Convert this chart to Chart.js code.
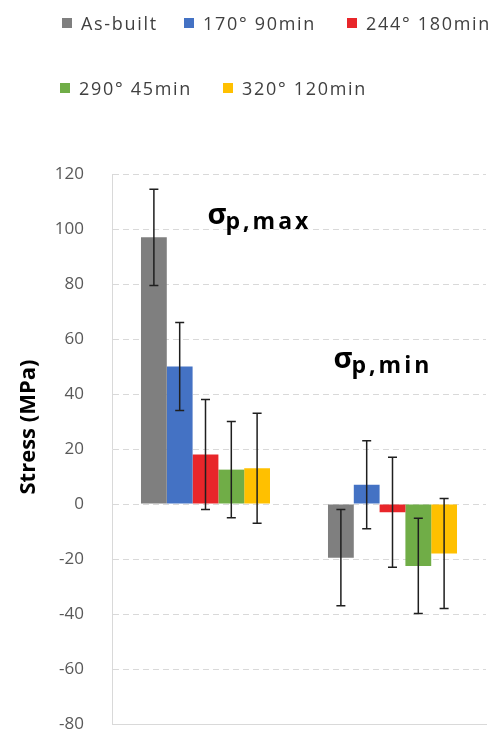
<!DOCTYPE html>
<html lang="en">
<head>
  <meta charset="UTF-8" />
  <title>Residual stress</title>
  <script src="https://cdn.jsdelivr.net/npm/chart.js"></script>
  <style>
    body { margin: 0; background: #fff; font-family: "Open Sans", sans-serif; }
    #wrap { position: relative; width: 496px; height: 731px; }
    #legend { position: absolute; left: 0; top: 0; width: 496px; height: 110px; }
    .item { position: absolute; display: flex; align-items: center; white-space: nowrap;
            font-size: 18px; color: #404040; letter-spacing: 1.7px; }
    .box { width: 10px; height: 10px; margin-right: 9px; }
  </style>
</head>
<body>
<div id="wrap">
  <canvas id="chart"></canvas>
  <div id="legend"></div>
</div>
<script>
  const categories = ["σp,max", "σp,min"];
  const seriesLabels = ["As-built", "170° 90min", "244° 180min", "290° 45min", "320° 120min"];
  const asBuilt = [97, -19.5];
  const asBuiltErr = [17.5, 17.5];
  const t170 = [50, 7];
  const t170Err = [16, 16];
  const t244 = [18, -3];
  const t244Err = [20, 20];
  const t290 = [12.5, -22.5];
  const t290Err = [17.5, 17.3];
  const t320 = [13, -18];
  const t320Err = [20, 20];
  const yTicks = [-80, -60, -40, -20, 0, 20, 40, 60, 80, 100, 120];
  const yTitle = "Stress (MPa)";

  const colors = ["#7f7f7f", "#4472c4", "#e8262a", "#70ad47", "#ffc000"];
  const values = [asBuilt, t170, t244, t290, t320];
  const errs = [asBuiltErr, t170Err, t244Err, t290Err, t320Err];

  // legend in two rows, placed like the original
  const legend = document.getElementById("legend");
  const spots = [[62, 11], [184, 11], [347, 11], [60, 76], [223, 76]];
  seriesLabels.forEach((l, i) => {
    const it = document.createElement("div");
    it.className = "item";
    it.style.left = spots[i][0] + "px";
    it.style.top = spots[i][1] + "px";
    it.innerHTML = `<span class="box" style="background:${colors[i]}"></span>${l}`;
    legend.appendChild(it);
  });

  const errorBars = {
    id: "errorBars",
    afterDatasetsDraw(chart) {
      const ctx = chart.ctx;
      const y = chart.scales.y;
      chart.data.datasets.forEach((ds, i) => {
        chart.getDatasetMeta(i).data.forEach((bar, j) => {
          const v = ds.data[j], e = ds.errors[j];
          const top = y.getPixelForValue(v + e);
          const bot = y.getPixelForValue(v - e);
          ctx.save();
          ctx.strokeStyle = "#1f1f1f";
          ctx.lineWidth = 1.5;
          ctx.beginPath();
          ctx.moveTo(bar.x, top); ctx.lineTo(bar.x, bot);
          ctx.moveTo(bar.x - 4.5, top); ctx.lineTo(bar.x + 4.5, top);
          ctx.moveTo(bar.x - 4.5, bot); ctx.lineTo(bar.x + 4.5, bot);
          ctx.stroke();
          ctx.restore();
        });
      });
    }
  };

  // sigma labels for the two groups + the axis title (sits a bit above centre in the original)
  const groupLabels = {
    id: "groupLabels",
    afterDraw(chart) {
      const ctx = chart.ctx;
      const x = chart.scales.x, y = chart.scales.y;
      const at = [
        { dx: 2, v: 102 },
        { dx: -59, v: 49.5 }
      ];
      categories.forEach((c, i) => {
        const px = x.getPixelForValue(i) + at[i].dx;
        const py = y.getPixelForValue(at[i].v);
        ctx.save();
        ctx.fillStyle = "#000";
        ctx.textBaseline = "alphabetic";
        ctx.font = "bold 29px 'Open Sans'";
        ctx.fillText(c[0], px, py);
        const w = ctx.measureText(c[0]).width;
        ctx.font = "bold 23px 'Open Sans'";
        ctx.letterSpacing = "3px";
        ctx.fillText(c.slice(1), px + w - 1, py + 5);
        ctx.restore();
      });

      ctx.save();
      ctx.translate(29, y.getPixelForValue(28));
      ctx.rotate(-Math.PI / 2);
      ctx.fillStyle = "#000";
      ctx.font = "bold 22px 'Open Sans'";
      ctx.textAlign = "center";
      ctx.textBaseline = "middle";
      ctx.fillText(yTitle, 0, 0);
      ctx.restore();
    }
  };

  new Chart(document.getElementById("chart"), {
    type: "bar",
    data: {
      labels: categories,
      datasets: seriesLabels.map((l, i) => ({
        label: l,
        data: values[i],
        errors: errs[i],
        backgroundColor: colors[i],
        barPercentage: 1,
        categoryPercentage: 0.69
      }))
    },
    options: {
      responsive: true,
      maintainAspectRatio: false,
      animation: false,
      layout: { padding: { top: 174, right: 10, bottom: 7, left: 0 } },
      plugins: { legend: { display: false }, tooltip: { enabled: false } },
      scales: {
        x: {
          ticks: { display: false },
          grid: { display: false },
          border: { color: "#d9d9d9" },
          afterFit: (s) => { s.height = 0; }
        },
        y: {
          min: -80,
          max: 120,
          afterBuildTicks: (s) => { s.ticks = yTicks.map((v) => ({ value: v })); },
          afterFit: (s) => { s.width = 112; },
          ticks: { color: "#595959", font: { size: 17, family: "Open Sans", lineHeight: 0.8 }, padding: 0 },
          grid: { color: "#d9d9d9", tickColor: "rgba(0,0,0,0)", tickLength: 28 },
          border: { color: "#d9d9d9", dash: [6, 4] }
        }
      }
    },
    plugins: [errorBars, groupLabels]
  });
</script>
</body>
</html>
